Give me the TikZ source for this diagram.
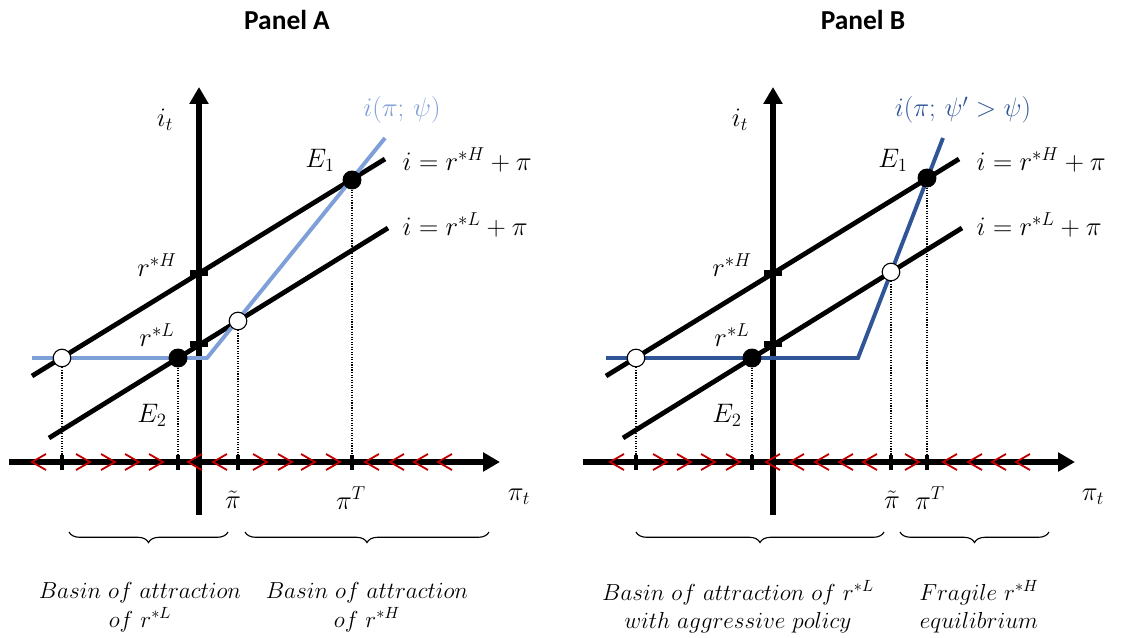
\documentclass[tikz,border=0pt]{standalone}
\usepackage{fix-cm}
\usepackage{fontspec}
\newfontfamily\titlefont{Carlito}
\usepackage{tikz}
\usetikzlibrary{arrows.meta, decorations.pathreplacing}
\definecolor{policyLight}{HTML}{7F9FD8}
\definecolor{policyDark}{HTML}{2F5597}
\definecolor{flowRed}{HTML}{C00000}

\tikzset{
  axis/.style={line width=3.6pt, -{Triangle[length=12pt, width=13pt]}},
  rate/.style={line width=3.4pt},
  policy/.style={line width=2.8pt},
  guide/.style={densely dotted, line width=0.8pt},
  tickmark/.style={line width=3pt},
  vtick/.style={line width=4pt},
  chev/.style={flowRed, line width=1.3pt},
  eqdot/.style={circle, fill=black, inner sep=0pt, minimum size=13.5pt},
  opendot/.style={circle, draw=black, fill=white, line width=0.8pt, inner sep=0pt, minimum size=12.5pt},
  lab/.style={font=\fontsize{19}{22}\selectfont, inner sep=1pt},
  basin/.style={line width=0.8pt, decorate, decoration={brace, mirror, amplitude=7.5pt}},
  basintext/.style={font=\fontsize{16.5}{20.5}\selectfont, align=center},
  paneltitle/.style={font=\titlefont\bfseries\fontsize{19.5}{22}\selectfont}
}

\begin{document}
\begin{tikzpicture}[x=0.025cm, y=-0.025cm]
  \useasboundingbox (0,0) rectangle (1127,638);

  % ================= Panel A =================
  \node[paneltitle] (titleA) at (287,20) {Panel A};
  % axes
  \coordinate (aO) at (199,462);
  \coordinate (aYbot) at (199,515);
  \coordinate (aYtop) at (199,87);
  \coordinate (aXl) at (9,462);
  \coordinate (aXr) at (500,462);
  \draw[axis] (aXl) -- (aXr);
  \draw[axis] (aYbot) -- (aYtop);
  % Fisher lines
  \coordinate (aHs) at (32,376);
  \coordinate (aHe) at (385,159);
  \coordinate (aLs) at (49,438);
  \coordinate (aLe) at (388,228);
  \draw[rate] (aHs) -- (aHe);
  \draw[rate] (aLs) -- (aLe);
  % policy rule
  \coordinate (aPs) at (32,358);
  \coordinate (aPk) at (207,358);
  \coordinate (aPe) at (385,138);
  \draw[policy, policyLight] (aPs) -- (aPk) -- (aPe);
  % steady states
  \node[opendot] (aLow) at (62,358) {};
  \node[eqdot] (aE2) at (178,358) {};
  \node[opendot] (aTil) at (238,321) {};
  \node[eqdot] (aE1) at (352,180) {};
  % guides to the axis
  \foreach \p in {aLow, aE2, aTil, aE1}
    \draw[guide] (\p) -- (\p |- aO);
  % ticks
  \foreach \x in {62,178,238,352}
    \draw[tickmark] (\x,455) -- (\x,470);
  \draw[vtick] (190,273) -- (208,273);
  \draw[vtick] (190,344) -- (208,344);
  % dynamics
  \foreach \x in {39,195,220,372,397,421,445}
    \draw[chev] (\x+7,454) -- (\x-7,462) -- (\x+7,470);
  \foreach \x in {83,108,132,156,260,285,308,333}
    \draw[chev] (\x-7,454) -- (\x+7,462) -- (\x-7,470);
  % labels
  \node[lab] (aIt) at (165,120) {$i_t$};
  \node[lab] (aRH) at (157,265) {$r^{*H}$};
  \node[lab] (aRL) at (157,335) {$r^{*L}$};
  \node[lab] (aE1lab) at (320,160) {$E_1$};
  \node[lab] (aE2lab) at (152,415) {$E_2$};
  \node[lab, anchor=west] (aEqH) at (401,160) {$i = r^{*H} + \pi$};
  \node[lab, anchor=west] (aEqL) at (401,225) {$i = r^{*L} + \pi$};
  \node[lab, text=policyLight] (aRule) at (402,110) {$i(\pi;\,\psi)$};
  \node[lab] (aPiTil) at (233,500) {$\tilde{\pi}$};
  \node[lab] (aPiT) at (351,498) {$\pi^T$};
  \node[lab] (aPit) at (519,497) {$\pi_t$};
  % basins
  \draw[basin] (69,532) -- (228,532);
  \draw[basin] (245,532) -- (489,532);
  \node[basintext] (aBasL) at (140,607) {$Basin\ of\ attraction$\\$of\ r^{*L}$};
  \node[basintext] (aBasH) at (367,607) {$Basin\ of\ attraction$\\$of\ r^{*H}$};

  % ================= Panel B =================
  \node[paneltitle] (titleB) at (863,20) {Panel B};
  % axes
  \coordinate (bO) at (773,462);
  \coordinate (bYbot) at (773,515);
  \coordinate (bYtop) at (773,87);
  \coordinate (bXl) at (583,462);
  \coordinate (bXr) at (1075,462);
  \draw[axis] (bXl) -- (bXr);
  \draw[axis] (bYbot) -- (bYtop);
  % Fisher lines
  \coordinate (bHs) at (606,376);
  \coordinate (bHe) at (959,159);
  \coordinate (bLs) at (623,438);
  \coordinate (bLe) at (962,228);
  \draw[rate] (bHs) -- (bHe);
  \draw[rate] (bLs) -- (bLe);
  % aggressive policy rule
  \coordinate (bPs) at (606,358);
  \coordinate (bPk) at (858,358);
  \coordinate (bPe) at (943,138);
  \draw[policy, policyDark] (bPs) -- (bPk) -- (bPe);
  % steady states
  \node[opendot] (bLow) at (636,358) {};
  \node[eqdot] (bE2) at (752,358) {};
  \node[opendot] (bTil) at (891,272) {};
  \node[eqdot] (bE1) at (927,178) {};
  % guides to the axis
  \foreach \p in {bLow, bE2, bTil, bE1}
    \draw[guide] (\p) -- (\p |- bO);
  % ticks
  \foreach \x in {636,752,891,927}
    \draw[tickmark] (\x,455) -- (\x,470);
  \draw[vtick] (764,273) -- (782,273);
  \draw[vtick] (764,344) -- (782,344);
  % dynamics
  \foreach \x in {617,773,797,822,846,870,950,975,999,1023}
    \draw[chev] (\x+7,454) -- (\x-7,462) -- (\x+7,470);
  \foreach \x in {660,684,708,733,912}
    \draw[chev] (\x-7,454) -- (\x+7,462) -- (\x-7,470);
  % labels
  \node[lab] (bIt) at (740,120) {$i_t$};
  \node[lab] (bRH) at (732,265) {$r^{*H}$};
  \node[lab] (bRL) at (732,335) {$r^{*L}$};
  \node[lab] (bE1lab) at (893,160) {$E_1$};
  \node[lab] (bE2lab) at (727,415) {$E_2$};
  \node[lab, anchor=west] (bEqH) at (975,160) {$i = r^{*H} + \pi$};
  \node[lab, anchor=west] (bEqL) at (975,225) {$i = r^{*L} + \pi$};
  \node[lab, text=policyDark] (bRule) at (963,110) {$i(\pi;\,\psi' > \psi)$};
  \node[lab] (bPiTil) at (892,500) {$\tilde{\pi}$};
  \node[lab] (bPiT) at (930,498) {$\pi^T$};
  \node[lab] (bPit) at (1093,497) {$\pi_t$};
  % basins
  \draw[basin] (636,532) -- (884,532);
  \draw[basin] (900,532) -- (1049,532);
  \node[basintext] (bBasL) at (738,607) {$Basin\ of\ attraction\ of\ r^{*L}$\\$with\ aggressive\ policy$};
  \node[basintext] (bBasH) at (979,607) {$Fragile\ r^{*H}$\\$equilibrium$};
\end{tikzpicture}
\end{document}
